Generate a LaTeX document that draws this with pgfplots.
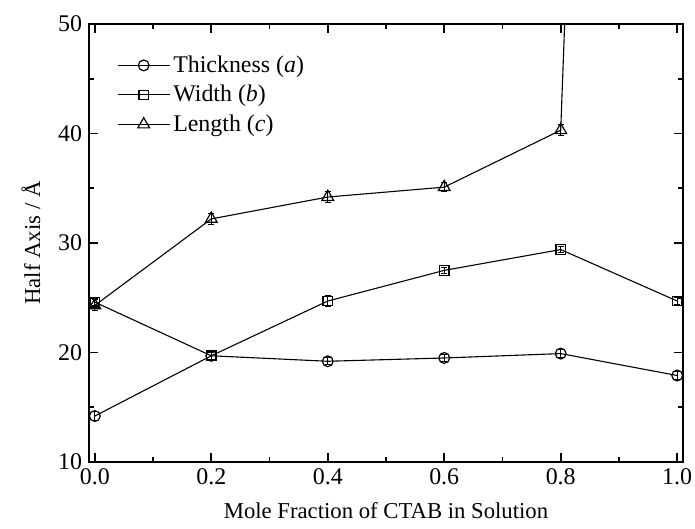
\documentclass[border=0pt]{standalone}
\usepackage{fontspec}
\setmainfont{Liberation Serif}
\usepackage{pgfplots}
\pgfplotsset{compat=1.18}
\begin{document}
\begin{tikzpicture}
\begin{axis}[name=ax, scale only axis, width=297bp, height=219bp,
 xmin=-0.01, xmax=1.01, ymin=10, ymax=50,
 xtick={0,0.2,0.4,0.6,0.8,1.0}, minor x tick num=1,
 ytick={10,20,30,40,50}, minor y tick num=1,
 xticklabel style={/pgf/number format/.cd, fixed, fixed zerofill, precision=1},
 /pgf/number format/assume math mode=true,
 tick align=inside, major tick length=4.5bp, minor tick length=2.5bp,
 axis line style={line width=1bp}, every tick/.style={line width=0.8bp, black},
 tick label style={font=\fontsize{12}{14}\selectfont},
 label style={font=\fontsize{11.4}{14}\selectfont},
 xlabel={Mole Fraction of CTAB in Solution}, ylabel={Half Axis / Å},
 xlabel style={yshift=-2bp}, ylabel style={yshift=2bp},
 legend style={draw=none, fill=none, at={(axis description cs:0.04,0.947)}, anchor=north west,
   font=\fontsize{12}{14}\selectfont, row sep=1bp, inner sep=2bp,
   nodes={inner xsep=1.5bp}},
 legend cell align=left,
 legend image code/.code={\draw[mark repeat=2,mark phase=2,#1] plot coordinates {(0bp,0bp) (13bp,0bp) (26bp,0bp)};},
 every axis plot/.append style={black, line width=0.55bp, mark options={fill=white, solid, line width=0.6bp}},
 error bars/y dir=both, error bars/y explicit,
 error bars/error mark options={rotate=90, mark size=1.5bp, line width=0.5bp},
 error bars/error bar style={line width=0.5bp},
]
\addplot[black, mark=o, mark size=2.7bp] coordinates {
 (0.0,14.2) +- (0,0.4)
 (0.2,19.7) +- (0,0.3)
 (0.4,19.2) +- (0,0.3)
 (0.6,19.5) +- (0,0.3)
 (0.8,19.9) +- (0,0.4)
 (1.0,17.9) +- (0,0.4)
};
\addlegendentry{Thickness (\textit{a})}
\addplot[black, mark=square, mark size=2.4bp] coordinates {
 (0.0,24.6) +- (0,0.3)
 (0.2,19.7) +- (0,0.4)
 (0.4,24.7) +- (0,0.5)
 (0.6,27.5) +- (0,0.3)
 (0.8,29.4) +- (0,0.3)
 (1.0,24.7) +- (0,0.3)
};
\addlegendentry{Width (\textit{b})}
\addplot[black, mark=triangle, mark size=3.4bp] coordinates {
 (0.0,24.3) +- (0,0.5)
 (0.2,32.2) +- (0,0.5)
 (0.4,34.2) +- (0,0.5)
 (0.6,35.1) +- (0,0.4)
 (0.8,40.3) +- (0,0.5)
 (1.0,326) +- (0,0.5)
};
\addlegendentry{Length (\textit{c})}
\end{axis}
\pgfresetboundingbox
\path ([xshift=-44.5bp,yshift=-33.5bp]ax.south west) rectangle ([xshift=6bp,yshift=12bp]ax.north east);
\end{tikzpicture}
\end{document}
